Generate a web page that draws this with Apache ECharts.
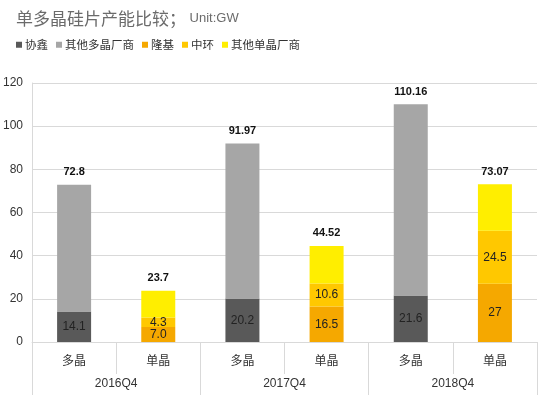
<!DOCTYPE html>
<html><head><meta charset="utf-8">
<script src="https://cdn.jsdelivr.net/npm/echarts@6/dist/echarts.min.js"></script>
<style>html,body{margin:0;padding:0;background:#fff}#c{width:543px;height:403px}</style>
</head><body><div id="c"></div>
<script>
var types = ['多晶','单晶','多晶','单晶','多晶','单晶'];
var quarters = ['2016Q4','2017Q4','2018Q4'];
var yTicks = [0,20,40,60,80,100,120];
var xiexin = [14.1, 20.2, 21.6];
var otherPoly = [58.7, 71.77, 88.56];
var longi = [7.0, 16.5, 27];
var longiLabels = ['7.0', '16.5', '27'];
var zhonghuan = [4.3, 10.6, 24.5];
var otherMono = [12.4, 17.42, 21.57];
var polyTotal = ['72.8', '91.97', '110.16'];
var monoTotal = ['23.7', '44.52', '73.07'];

function poly(a){ var r=[]; a.forEach(function(v){ r.push(v,'-'); }); return r; }
function mono(a){ var r=[]; a.forEach(function(v){ r.push('-',v); }); return r; }

var FF = '"Liberation Sans","Noto Sans CJK SC",sans-serif';
var CJK = '"Noto Sans CJK SC",sans-serif';
var chart = echarts.init(document.getElementById('c'), null, {renderer:'canvas'});
var inLabel = {show:true, position:'inside', color:'#222', fontSize:12, fontFamily:FF};
var totLabel = {show:true, position:'top', distance:7, color:'#111', fontSize:11, fontWeight:'bold', fontFamily:FF};
chart.setOption({
  animation:false,
  textStyle:{fontFamily:FF},
  title:{left:11, top:5, text:'{a|单多晶硅片产能比较；}{b| Unit:GW}',
    textStyle:{fontWeight:'normal', rich:{a:{fontSize:17, fontWeight:'normal', color:'#6b6b6b', fontFamily:CJK}, b:{fontSize:13, fontWeight:'normal', color:'#6b6b6b', fontFamily:FF}}}},
  legend:{left:11, top:34, itemWidth:6, itemHeight:6, itemGap:8, icon:'rect',
    textStyle:{fontSize:11.5, color:'#333', fontFamily:CJK, padding:[0,0,0,-2]},
    data:['协鑫','其他多晶厂商','隆基','中环','其他单晶厂商']},
  grid:{left:31, right:6, top:83, bottom:61},
  xAxis:[
    {type:'category', data:types, position:'bottom',
     axisLine:{onZero:false, lineStyle:{color:'#d9d9d9'}},
     axisTick:{show:true, interval:0, length:32, lineStyle:{color:'#d9d9d9'}},
     axisLabel:{interval:0, margin:12, fontSize:12, color:'#333', fontFamily:CJK}},
    {type:'category', data:quarters, position:'bottom', offset:0,
     axisLine:{show:false, onZero:false},
     axisTick:{show:true, interval:0, length:53, lineStyle:{color:'#d9d9d9'}},
     axisLabel:{interval:0, margin:36, fontSize:12, color:'#333', fontFamily:FF}}
  ],
  yAxis:{type:'value', min:yTicks[0], max:yTicks[yTicks.length-1], interval:20,
    axisLine:{show:true, lineStyle:{color:'#d9d9d9'}},
    axisTick:{show:false},
    splitLine:{lineStyle:{color:'#d9d9d9'}},
    axisLabel:{margin:9, fontSize:12, color:'#333', fontFamily:FF}},
  series:[
    {name:'协鑫', type:'bar', stack:'s', barWidth:34, data:poly(xiexin), itemStyle:{color:'#595959'}, label:inLabel},
    {name:'其他多晶厂商', type:'bar', stack:'s', barWidth:34, data:poly(otherPoly), itemStyle:{color:'#a6a6a6'},
     label:Object.assign({}, totLabel, {formatter:function(p){return polyTotal[(p.dataIndex/2)|0];}})},
    {name:'隆基', type:'bar', stack:'s', barWidth:34, data:mono(longi), itemStyle:{color:'#f5a800'},
     label:Object.assign({}, inLabel, {formatter:function(p){return longiLabels[(p.dataIndex/2)|0];}})},
    {name:'中环', type:'bar', stack:'s', barWidth:34, data:mono(zhonghuan), itemStyle:{color:'#ffc800'}, label:inLabel},
    {name:'其他单晶厂商', type:'bar', stack:'s', barWidth:34, data:mono(otherMono), itemStyle:{color:'#ffee00'},
     label:Object.assign({}, totLabel, {formatter:function(p){return monoTotal[(p.dataIndex/2)|0];}})}
  ]
});
</script></body></html>
